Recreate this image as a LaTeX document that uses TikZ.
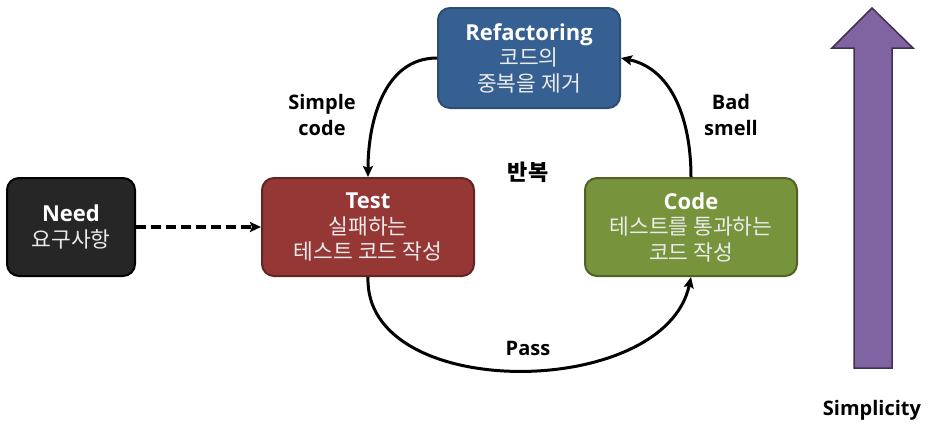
\documentclass[tikz,border=0pt]{standalone}
\usepackage{fontspec}
\setmainfont{Open Sans}
\newfontfamily\kr{Noto Sans CJK KR}
\usetikzlibrary{arrows.meta}

\definecolor{needfill}{HTML}{262626}
\definecolor{testfill}{HTML}{953735}
\definecolor{testline}{HTML}{632523}
\definecolor{reffill}{HTML}{376092}
\definecolor{refline}{HTML}{2C4D75}
\definecolor{codefill}{HTML}{77933C}
\definecolor{codeline}{HTML}{4F6228}
\definecolor{simpfill}{HTML}{8064A2}
\definecolor{simpline}{HTML}{3F3151}

\tikzset{
	box/.style={draw, rounded corners=12pt, line width=2pt, minimum height=98pt,
		align=center, text=white, inner sep=0pt,
		font=\fontsize{22}{25.5}\selectfont},
	lbl/.style={align=center, font=\bfseries\fontsize{20}{26}\selectfont},
	flow/.style={line width=3pt, -{Stealth[length=11pt, width=10pt, inset=2pt]}},
}
\newcommand{\sub}[1]{{\kr\fontsize{21.5}{25.5}\selectfont\color{white!92!black}#1}}

\begin{document}
\begin{tikzpicture}[x=1pt, y=-1pt]
	\useasboundingbox (0,0) rectangle (940,434);

	% the four steps
	\node [box, fill=needfill, draw=black, minimum width=128pt] (need) at (71,227)
		{\textbf{Need}\\\sub{요구사항}};
	\node [box, fill=testfill, draw=testline, minimum width=212pt] (test) at (368,227)
		{\textbf{Test}\\\sub{실패하는}\\\sub{테스트 코드 작성}};
	\node [box, fill=reffill, draw=refline, minimum width=182pt, minimum height=100pt] (ref) at (529,58)
		{\textbf{Refactoring}\\\sub{코드의}\\\sub{중복을 제거}};
	\node [box, fill=codefill, draw=codeline, minimum width=212pt] (code) at (691,227)
		{\textbf{Code}\\\sub{테스트를 통과하는}\\\sub{코드 작성}};

	% the cycle
	\begin{scope}
		\draw [flow, dash pattern=on 10pt off 5pt, line width=3.5pt] (need) -- (test);
		\draw [flow] (ref.west) to [out=180, in=90] (test.north);
		\draw [flow] (code.north) to [out=90, in=-12] (ref.east);
		\draw [flow] (test.south) to [out=-92, in=-102] (code.south);
	\end{scope}

	\node [lbl] (simple) at (322,115) {Simple\\code};
	\node [lbl] (bad) at (731,115) {Bad\\smell};
	\node [lbl] (pass) at (528,348) {Pass};
	\node [lbl, font=\kr\bfseries\fontsize{22}{26}\selectfont] (again) at (528,172) {반복};

	% simplicity arrow
	\draw [fill=simpfill, draw=simpline, line width=1.5pt, line join=miter]
		(872,8) -- (913,48) -- (892,48) -- (892,368) -- (854,368) -- (854,48) -- (832,48) -- cycle;
	\node [lbl] (simplicity) at (872,410) {Simplicity};
\end{tikzpicture}
\end{document}
